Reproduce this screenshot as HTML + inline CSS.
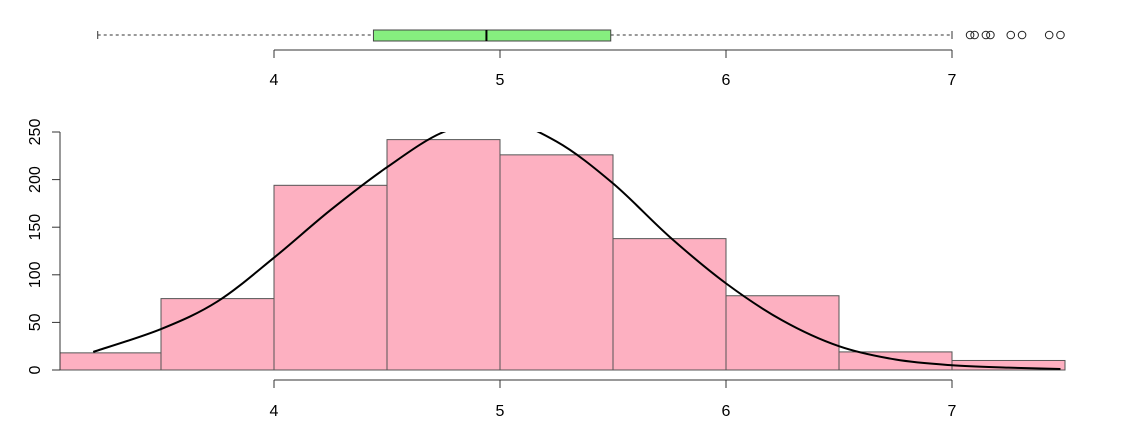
<!DOCTYPE html>
<html><head><meta charset="utf-8"><style>
html,body{margin:0;padding:0;background:#fff;}
svg{display:block;font-family:"Liberation Sans",sans-serif;}
</style></head><body>
<svg id="chart" width="1139" height="439" viewBox="0 0 1139 439">
<defs><clipPath id="plotclip"><rect x="60" y="132" width="1010" height="240"/></clipPath></defs>
</svg>
<script>
const binStarts = [3.05, 3.5, 4.0, 4.5, 5.0, 5.5, 6.0, 6.5, 7.0];
const binEnds   = [3.5, 4.0, 4.5, 5.0, 5.5, 6.0, 6.5, 7.0, 7.5];
const counts    = [18, 75, 194, 242, 226, 138, 78, 19, 10];
const curveX = [3.2,3.5,3.75,4.0,4.25,4.5,4.75,5.0,5.25,5.5,5.75,6.0,6.25,6.5,6.75,7.0,7.25,7.48];
const curveY = [19,43,72,118,168,213,250,263,240,196,140,91,52,25,11,5,2.5,1];
const yTicks = [0,50,100,150,200,250];
const xTicks = [4,5,6,7];
const boxStats = [3.22, 4.44, 4.94, 5.49, 7.0];
const outliers = [7.08, 7.1, 7.15, 7.17, 7.26, 7.31, 7.43, 7.48];

const NS='http://www.w3.org/2000/svg';
const svg=document.getElementById('chart');
const xs=v=>274+(v-4)*226;
const ys=v=>370-v*0.952;
function mk(tag,attrs,parent){const e=document.createElementNS(NS,tag);for(const k in attrs)e.setAttribute(k,attrs[k]);(parent||svg).appendChild(e);return e;}

const bp=mk('g',{});


let w1=mk('line',{x1:xs(boxStats[0]),x2:xs(boxStats[1]),y1:35,y2:35,stroke:'#333','stroke-dasharray':'3,3'},bp);


let w2=mk('line',{x1:xs(boxStats[3]),x2:xs(boxStats[4]),y1:35,y2:35,stroke:'#333','stroke-dasharray':'3,3'},bp);


mk('line',{x1:xs(boxStats[0]),x2:xs(boxStats[0]),y1:31,y2:39,stroke:'#333'},bp);
mk('line',{x1:xs(boxStats[4]),x2:xs(boxStats[4]),y1:31,y2:39,stroke:'#333'},bp);
let bx=mk('rect',{x:xs(boxStats[1]),y:30,width:xs(boxStats[3])-xs(boxStats[1]),height:11,fill:'#86ee7f',stroke:'#444'},bp);


let md=mk('line',{x1:xs(boxStats[2]),x2:xs(boxStats[2]),y1:30,y2:41,stroke:'#000','stroke-width':2},bp);


outliers.forEach(o=>{const c=mk('circle',{cx:xs(o),cy:35,r:3.8,fill:'none',stroke:'#222'},bp);

});

const ta=mk('g',{});


mk('line',{x1:xs(xTicks[0]),x2:xs(xTicks[xTicks.length-1]),y1:50,y2:50,stroke:'#333'},ta);
xTicks.forEach(t=>{mk('line',{x1:xs(t),x2:xs(t),y1:50,y2:58,stroke:'#333'},ta);
const tx=mk('text',{x:xs(t),y:85,'text-anchor':'middle','font-size':16,fill:'#000'},ta);tx.textContent=t;

});

const bars=mk('g',{'clip-path':'url(#plotclip)'});


counts.forEach((c,i)=>{const r=mk('rect',{x:xs(binStarts[i]),y:ys(c),width:xs(binEnds[i])-xs(binStarts[i]),height:ys(0)-ys(c),fill:'#fdb0c1',stroke:'#555'},bars);

});

const cg=mk('g',{'clip-path':'url(#plotclip)'});
const P=curveX.map((x,i)=>[xs(x),ys(curveY[i])]);
let d='M'+P[0][0]+','+P[0][1];
for(let i=0;i<P.length-1;i++){
  const p0=P[Math.max(0,i-1)],p1=P[i],p2=P[i+1],p3=P[Math.min(P.length-1,i+2)];
  const c1=[p1[0]+(p2[0]-p0[0])/6,p1[1]+(p2[1]-p0[1])/6];
  const c2=[p2[0]-(p3[0]-p1[0])/6,p2[1]-(p3[1]-p1[1])/6];
  d+=` C${c1[0]},${c1[1]} ${c2[0]},${c2[1]} ${p2[0]},${p2[1]}`;
}
const pl=mk('path',{d:d,fill:'none',stroke:'#000','stroke-width':2,'stroke-linejoin':'round'},cg);



const ya=mk('g',{});


mk('line',{x1:60,x2:60,y1:ys(yTicks[0]),y2:ys(yTicks[yTicks.length-1]),stroke:'#333'},ya);
yTicks.forEach(t=>{mk('line',{x1:52,x2:60,y1:ys(t),y2:ys(t),stroke:'#333'},ya);
const tx=mk('text',{x:0,y:0,transform:`translate(40,${ys(t)}) rotate(-90)`,'text-anchor':'middle','font-size':16,fill:'#000'},ya);tx.textContent=t;

});

const xa=mk('g',{});


mk('line',{x1:xs(xTicks[0]),x2:xs(xTicks[xTicks.length-1]),y1:380,y2:380,stroke:'#333'},xa);
xTicks.forEach(t=>{mk('line',{x1:xs(t),x2:xs(t),y1:380,y2:388,stroke:'#333'},xa);
const tx=mk('text',{x:xs(t),y:416,'text-anchor':'middle','font-size':16,fill:'#000'},xa);tx.textContent=t;

});
</script>
</body></html>
